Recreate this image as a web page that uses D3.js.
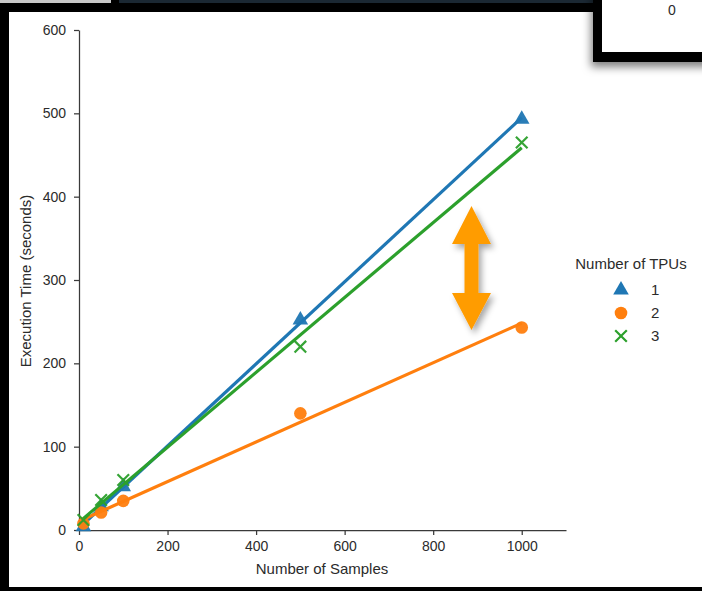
<!DOCTYPE html>
<html>
<head>
<meta charset="utf-8">
<script src="https://cdn.jsdelivr.net/npm/d3@7"></script>
<style>
  html, body { margin: 0; padding: 0; background: #000; }
  svg { display: block; }
  text { font-family: "Liberation Sans", Arial, sans-serif; fill: #2b2b2b; }
</style>
</head>
<body>
<svg id="chart" width="702" height="591"></svg>
<script>
// ---- data ----
const samples = [10, 50, 100, 500, 1000];
const tpuLabels = ["1", "2", "3"];
const time1 = [4, 28, 52, 252, 493];
const time2 = [8, 21, 35, 140, 243];
const time3 = [12, 36, 60, 220, 465];
const xTicks = [0, 200, 400, 600, 800, 1000];
const yTicks = [0, 100, 200, 300, 400, 500, 600];
const legendTitle = "Number of TPUs";
const xLabel = "Number of Samples";
const yLabel = "Execution Time (seconds)";
const cornerText = "0";

const series = [
  { label: tpuLabels[0], values: time1, color: "#1f77b4", shape: "triangle" },
  { label: tpuLabels[1], values: time2, color: "#ff7f0e", shape: "circle" },
  { label: tpuLabels[2], values: time3, color: "#2ca02c", shape: "cross" }
];

const svg = d3.select("#chart");
const defs = svg.append("defs");
const f = defs.append("filter").attr("id", "shadow").attr("x", "-50%").attr("y", "-50%").attr("width", "200%").attr("height", "200%");
f.append("feDropShadow").attr("dx", 3).attr("dy", 4).attr("stdDeviation", 3).attr("flood-color", "#000").attr("flood-opacity", 0.35);
const f2 = defs.append("filter").attr("id", "boxshadow").attr("x", "-50%").attr("y", "-50%").attr("width", "200%").attr("height", "200%");
f2.append("feDropShadow").attr("dx", -2).attr("dy", 5).attr("stdDeviation", 4).attr("flood-color", "#000").attr("flood-opacity", 0.5);

// ---- background / frame ----
svg.append("rect").attr("x", 0).attr("y", 0).attr("width", 702).attr("height", 591).attr("fill", "#000");
svg.append("rect").attr("x", 0).attr("y", 0).attr("width", 111).attr("height", 3).attr("fill", "#c9c9c9");
svg.append("rect").attr("x", 119).attr("y", 0).attr("width", 474).attr("height", 3).attr("fill", "#1b2833");
svg.append("rect").attr("x", 9).attr("y", 12).attr("width", 693).attr("height", 575).attr("fill", "#fff");

// top-right box
svg.append("rect").attr("x", 593).attr("y", -10).attr("width", 120).attr("height", 72).attr("fill", "#000").attr("filter", "url(#boxshadow)");
svg.append("rect").attr("x", 602).attr("y", 0).attr("width", 100).attr("height", 52).attr("fill", "#fff");
svg.append("text").attr("x", 672).attr("y", 15).attr("text-anchor", "middle").attr("font-size", 14).text(cornerText);

// ---- scales ----
const x = d3.scaleLinear().domain([0, 1100]).range([79, 566]);
const y = d3.scaleLinear().domain([0, 600]).range([530, 30]);

// ---- axes ----
const axisColor = "#3a3a3a";
const gx = svg.append("g").attr("transform", `translate(0,${y(0)})`)
  .call(d3.axisBottom(x).tickValues(xTicks).tickSize(5).tickSizeOuter(0).tickPadding(6).tickFormat(d3.format("d")));
const gy = svg.append("g").attr("transform", `translate(${x(0)},0)`)
  .call(d3.axisLeft(y).tickValues(yTicks).tickSize(5).tickSizeOuter(0).tickPadding(8).tickFormat(d3.format("d")));
[gx, gy].forEach(g => {
  g.select(".domain").attr("stroke", axisColor).attr("stroke-width", 1.25);
  g.selectAll(".tick line").attr("stroke", axisColor).attr("stroke-width", 1.25);
  g.selectAll(".tick text").attr("font-size", 14).attr("fill", "#2b2b2b").style("font-family", "Liberation Sans, Arial, sans-serif");
});

svg.append("text").attr("x", 322).attr("y", 574).attr("text-anchor", "middle").attr("font-size", 15).text(xLabel);
svg.append("text").attr("transform", `translate(31,281) rotate(-90)`).attr("text-anchor", "middle").attr("font-size", 15).text(yLabel);

// ---- markers ----
function drawMarker(g, shape, color, cx, cy) {
  if (shape === "triangle") {
    g.append("path").attr("d", d3.symbol().type(d3.symbolTriangle).size(105)())
      .attr("transform", `translate(${cx},${cy})`).attr("fill", color);
  } else if (shape === "circle") {
    g.append("circle").attr("cx", cx).attr("cy", cy).attr("r", 6.3).attr("fill", color);
  } else {
    const s = 5.8;
    g.append("path").attr("d", `M${-s},${-s}L${s},${s}M${-s},${s}L${s},${-s}`)
      .attr("transform", `translate(${cx},${cy})`).attr("stroke", color).attr("stroke-width", 2.2).attr("fill", "none");
  }
}

function linearFit(xs, ys) {
  const mx = d3.mean(xs), my = d3.mean(ys);
  let sxy = 0, sxx = 0;
  xs.forEach((xv, i) => { sxy += (xv - mx) * (ys[i] - my); sxx += (xv - mx) ** 2; });
  const b = sxy / sxx;
  return { b, a: my - b * mx };
}

const plot = svg.append("g");
series.forEach(s => {
  const mg = plot.append("g").attr("opacity", 0.95);
  samples.forEach((sv, i) => drawMarker(mg, s.shape, s.color, x(sv), y(s.values[i])));
  const fit = linearFit(samples, s.values);
  const x0 = d3.min(samples), x1 = d3.max(samples);
  plot.append("line")
    .attr("x1", x(x0)).attr("y1", y(fit.a + fit.b * x0))
    .attr("x2", x(x1)).attr("y2", y(fit.a + fit.b * x1))
    .attr("stroke", s.color).attr("stroke-width", 3.2).attr("stroke-linecap", "butt");
});

// ---- double arrow annotation ----
const arrowX = 471.5, arrowTop = 206, headBase1 = 244, headBase2 = 293, arrowBot = 330, headHalf = 19.5, shaftHalf = 7;
svg.append("polygon")
  .attr("points", [
    [arrowX, arrowTop], [arrowX + headHalf, headBase1], [arrowX + shaftHalf, headBase1], [arrowX + shaftHalf, headBase2], [arrowX + headHalf, headBase2],
    [arrowX, arrowBot], [arrowX - headHalf, headBase2], [arrowX - shaftHalf, headBase2], [arrowX - shaftHalf, headBase1], [arrowX - headHalf, headBase1]
  ].map(p => p.join(",")).join(" "))
  .attr("fill", "#ff9c00").attr("filter", "url(#shadow)");

// ---- legend ----
const lg = svg.append("g");
lg.append("text").attr("x", 631).attr("y", 269).attr("text-anchor", "middle").attr("font-size", 15).text(legendTitle);
series.forEach((s, i) => {
  const cy = 290 + i * 23;
  drawMarker(lg, s.shape, s.color, 621, cy);
  lg.append("text").attr("x", 651).attr("y", cy + 5).attr("font-size", 15).text(s.label);
});
</script>
</body>
</html>
